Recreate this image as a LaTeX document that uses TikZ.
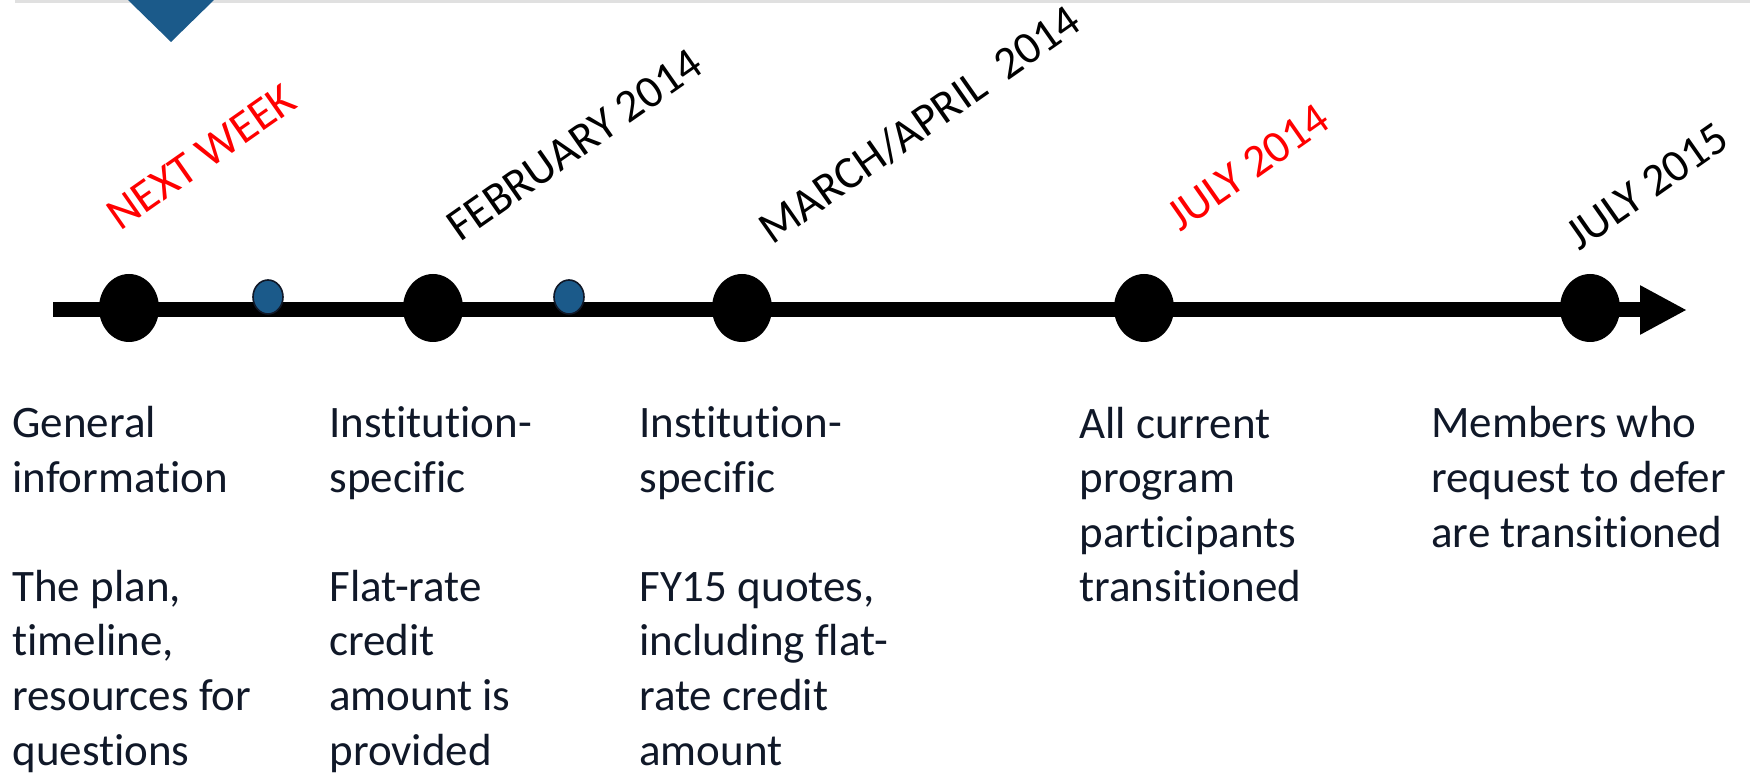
\documentclass[tikz,border=0pt]{standalone}
\usepackage{fontspec}
\setmainfont{Carlito}[Ligatures=NoCommon]
\usepackage{tikz}
\usetikzlibrary{shapes.geometric,arrows.meta,positioning}
\definecolor{PlanBlue}{HTML}{1B5A8A}
\definecolor{PlanInk}{HTML}{101828}
\definecolor{PlanGray}{HTML}{E0E0E0}

\begin{document}
\begin{tikzpicture}[x=0.5pt, y=-0.5pt,
	event/.style={ellipse, fill=black, minimum width=30pt, minimum height=34pt, inner sep=0},
	tick/.style={ellipse, fill=PlanBlue, draw=PlanInk, line width=0.8pt, minimum width=15pt, minimum height=17pt, inner sep=0},
	when/.style={rotate=35, anchor=base west, inner sep=0, font=\fontsize{23}{27}\selectfont},
	info/.style={anchor=base west, inner sep=0, align=left, text=PlanInk, font=\fontsize{22.5}{27.3}\selectfont}]

	\useasboundingbox (0,0) rectangle (1750,774);
	\fill[PlanGray] (15,0) rectangle (1750,3.5);
	\fill[PlanBlue] (128,0) -- (214,0) -- (171,42) -- cycle;

	% the time axis
	\coordinate (start) at (53,310);
	\coordinate (end) at (1687,310);
	\draw[line width=7.5pt, -{Triangle[length=23.5pt, width=23pt]}] (start) -- (end);

	\node[event] (week) at (129,308) {};
	\node[tick] (tickA) at (268,297) {};
	\node[event] (feb) at (433,308) {};
	\node[tick] (tickB) at (569,297) {};
	\node[event] (march) at (742,308) {};
	\node[event] (julyA) at (1144,308) {};
	\node[event] (julyB) at (1590,308) {};

	% dates
	\node[when, text=red] (weekDate) at (120,232) {NEXT WEEK};
	\node[when] (febDate) at (460,243) {FEBRUARY 2014};
	\node[when] (marchDate) at (772,246) {MARCH/APRIL~ 2014};
	\node[when, text=red] (julyADate) at (1180,233) {JULY 2014};
	\node[when] (julyBDate) at (1579,252) {JULY 2015};

	% what happens (anchored on the last line)
	\node[info] (weekInfo) at (12,765) {General\\information\\[27.3pt]The plan,\\timeline,\\resources for\\questions};
	\node[info] (febInfo) at (329,765) {Institution-\\specific\\[27.3pt]Flat-rate\\credit\\amount is\\provided};
	\node[info] (marchInfo) at (639,765) {Institution-\\specific\\[27.3pt]FY15 quotes,\\including flat-\\rate credit\\amount};
	\node[info] (julyAInfo) at (1079,602) {All current\\program\\participants\\transitioned};
	\node[info] (julyBInfo) at (1431,547) {Members who\\request to defer\\are transitioned};
\end{tikzpicture}
\end{document}
